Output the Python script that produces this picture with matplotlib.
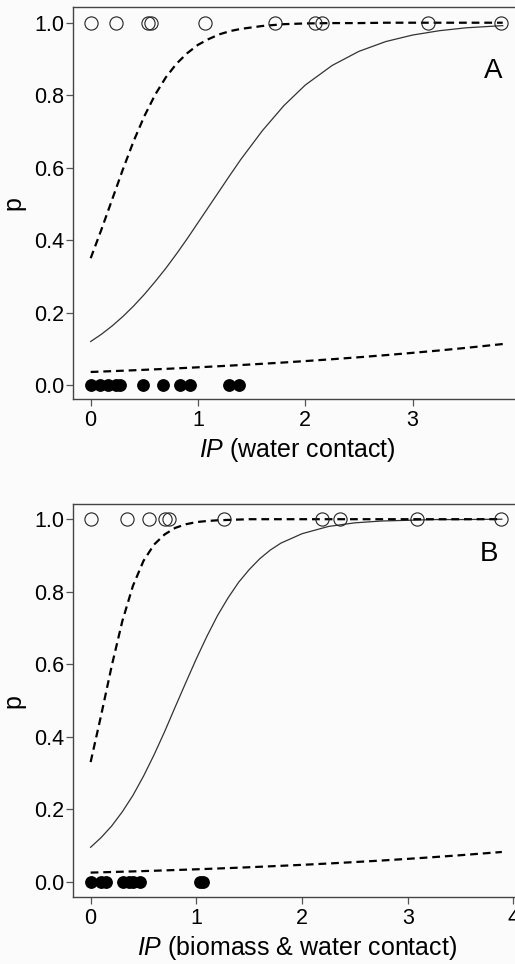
import numpy as np
import matplotlib.pyplot as plt

plt.rcParams['font.family'] = ['Liberation Sans', 'DejaVu Sans']
plt.rcParams['mathtext.fontset'] = 'custom'
plt.rcParams['mathtext.it'] = 'Liberation Sans:italic'
plt.rcParams['mathtext.rm'] = 'Liberation Sans'

# panel A: IP (water contact)
a_present = [0.0, 0.236, 0.53, 0.56, 1.07, 1.72, 2.09, 2.16, 3.14, 3.82]
a_absent = [0.0, 0.09, 0.165, 0.24, 0.27, 0.49, 0.67, 0.83, 0.925, 1.29, 1.385]
a_x = [0, 0.1, 0.2, 0.3, 0.4, 0.5, 0.6, 0.7, 0.8, 0.9, 1.0, 1.1, 1.2, 1.3, 1.4,
       1.6, 1.8, 2.0, 2.25, 2.5, 2.75, 3.0, 3.25, 3.5, 3.84]
a_fit = [0.120, 0.140, 0.163, 0.189, 0.218, 0.250, 0.285, 0.322, 0.362, 0.404,
         0.448, 0.492, 0.536, 0.580, 0.623, 0.702, 0.771, 0.828, 0.882, 0.921,
         0.948, 0.966, 0.978, 0.986, 0.992]
a_upper = [0.350, 0.429, 0.512, 0.595, 0.673, 0.742, 0.801, 0.849, 0.887, 0.916,
           0.939, 0.955, 0.968, 0.977, 0.983, 0.991, 0.996, 0.998, 0.999, 0.999,
           1.0, 1.0, 1.0, 1.0, 1.0]
a_lower = [0.0359, 0.0370, 0.0382, 0.0394, 0.0406, 0.0419, 0.0432, 0.0445,
           0.0459, 0.0473, 0.0488, 0.0503, 0.0519, 0.0535, 0.0551, 0.0585,
           0.0621, 0.0660, 0.0711, 0.0766, 0.0824, 0.0887, 0.0953, 0.1025, 0.113]

# panel B: IP (biomass & water contact)
b_present = [0.0, 0.34, 0.555, 0.70, 0.74, 1.26, 2.19, 2.36, 3.09, 3.88]
b_absent = [0.0, 0.10, 0.145, 0.31, 0.36, 0.40, 0.47, 1.03, 1.06]
b_x = [0, 0.1, 0.2, 0.3, 0.4, 0.5, 0.6, 0.7, 0.8, 0.9, 1.0, 1.1, 1.2, 1.3, 1.4,
       1.5, 1.6, 1.7, 1.8, 2.0, 2.25, 2.5, 2.75, 3.0, 3.25, 3.5, 3.89]
b_fit = [0.095, 0.122, 0.154, 0.193, 0.238, 0.291, 0.350, 0.414, 0.482, 0.549,
         0.615, 0.677, 0.734, 0.783, 0.826, 0.861, 0.891, 0.915, 0.934, 0.960,
         0.980, 0.990, 0.995, 0.997, 0.999, 0.999, 1.0]
b_upper = [0.330, 0.460, 0.596, 0.719, 0.816, 0.885, 0.930, 0.958, 0.976, 0.986,
           0.992, 0.995, 0.997, 0.998, 0.999, 1.0, 1.0, 1.0, 1.0, 1.0, 1.0, 1.0,
           1.0, 1.0, 1.0, 1.0, 1.0]
b_lower = [0.0251, 0.0259, 0.0267, 0.0276, 0.0284, 0.0293, 0.0302, 0.0312,
           0.0322, 0.0332, 0.0342, 0.0353, 0.0364, 0.0375, 0.0387, 0.0399,
           0.0412, 0.0425, 0.0438, 0.0465, 0.0502, 0.0542, 0.0584, 0.0630,
           0.0679, 0.0731, 0.0820]

panels = [
    dict(pos=[0.1417, 0.5858, 0.872, 0.4066], xlim=(-0.165, 4.02), ylim=(-0.0395, 1.0425),
         xticks=[0, 1, 2, 3], present=a_present, absent=a_absent, x=a_x, fit=a_fit,
         upper=a_upper, lower=a_lower, tag='A', tagxy=(3.75, 0.867),
         label='(water contact)'),
    dict(pos=[0.1417, 0.0692, 0.8697, 0.408], xlim=(-0.167, 4.07), ylim=(-0.043, 1.042),
         xticks=[0, 1, 2, 3, 4], present=b_present, absent=b_absent, x=b_x, fit=b_fit,
         upper=b_upper, lower=b_lower, tag='B', tagxy=(3.77, 0.904),
         label='(biomass & water contact)'),
]

fig = plt.figure(figsize=(5.15, 9.64), dpi=100)
fig.patch.set_facecolor('#fbfbfb')

for p in panels:
    ax = fig.add_axes(p['pos'])
    ax.set_facecolor('#fbfbfb')
    ax.plot(p['x'], p['fit'], color='#333333', lw=0.9)
    ax.plot(p['x'], p['upper'], color='black', lw=1.6, dashes=[3.5, 2.2])
    ax.plot(p['x'], p['lower'], color='black', lw=1.6, dashes=[3.5, 2.2])
    ax.plot(p['present'], np.ones(len(p['present'])), 'o', ms=9.5, mfc='none',
            mec='#222222', mew=0.8)
    ax.plot(p['absent'], np.zeros(len(p['absent'])), 'o', ms=8.2, color='black')
    ax.text(p['tagxy'][0], p['tagxy'][1], p['tag'], fontsize=20, ha='center', va='center')

    ax.set_xlim(p['xlim'])
    ax.set_ylim(p['ylim'])
    ax.set_xticks(p['xticks'])
    ax.set_yticks([0.0, 0.2, 0.4, 0.6, 0.8, 1.0])
    ax.set_yticklabels(['0.0', '0.2', '0.4', '0.6', '0.8', '1.0'])
    for s in ax.spines.values():
        s.set_color('#444444')
        s.set_linewidth(1.0)
    ax.tick_params(axis='both', length=5, width=0.9, color='#555555', labelsize=15.5)
    ax.tick_params(axis='y', pad=1.5)
    ax.tick_params(axis='x', pad=3)
    ax.set_ylabel('p', fontsize=18, labelpad=6)
    ax.set_xlabel(r'$\mathit{IP}$ ' + p['label'], fontsize=18, labelpad=3)

fig.savefig('out.png', dpi=100, facecolor=fig.get_facecolor())
